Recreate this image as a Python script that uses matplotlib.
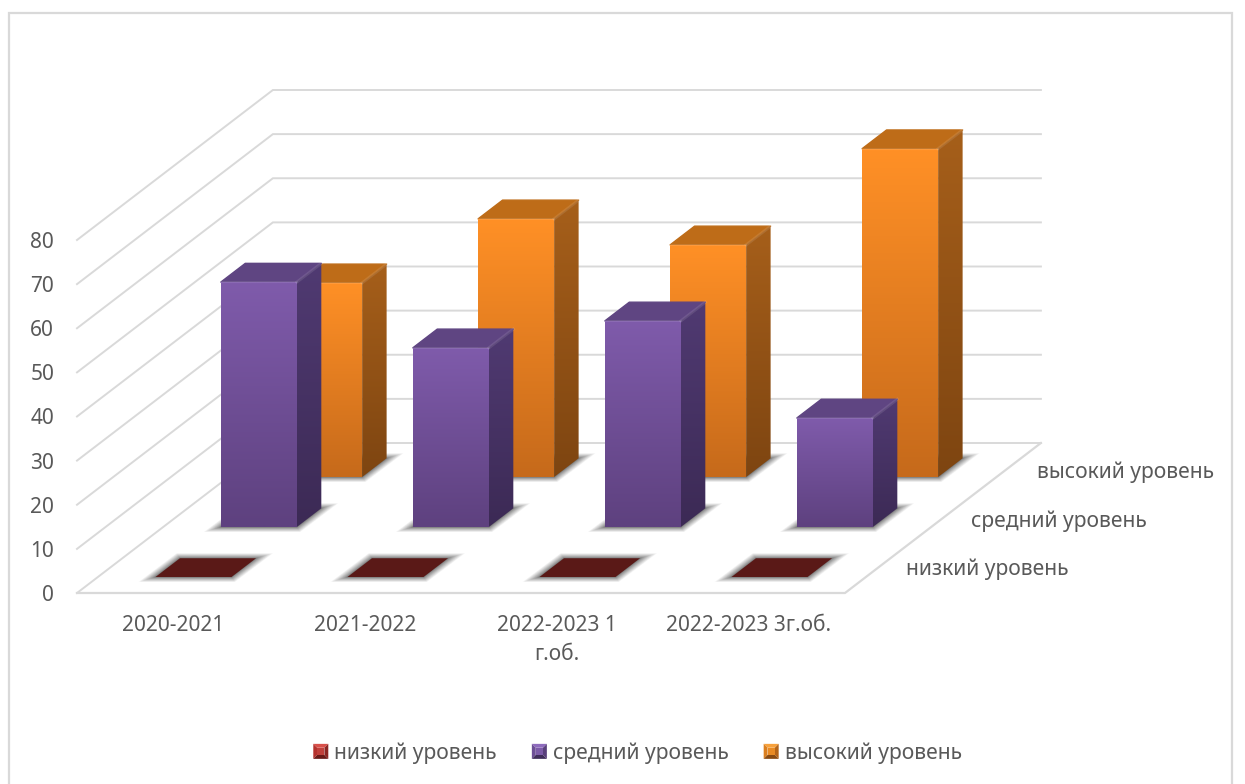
import numpy as np
import matplotlib
matplotlib.use("Agg")
import matplotlib.pyplot as plt
from matplotlib.patches import Polygon, Rectangle
from matplotlib.legend_handler import HandlerBase
from matplotlib.lines import Line2D

plt.rcParams['font.family'] = ['Noto Sans', 'DejaVu Sans']

categories = ['2020-2021', '2021-2022', '2022-2023 1\nг.об.', '2022-2023 3г.об.']
series_names = ['низкий уровень', 'средний уровень', 'высокий уровень']
low_level = [0, 0, 0, 0]
mid_level = [55.5, 40.6, 46.7, 24.7]
high_level = [44, 58.5, 52.6, 74.4]
value_ticks = [0, 10, 20, 30, 40, 50, 60, 70, 80]

W, H = 1245, 784
AX_L, AX_R, AX_B, AX_T = 77, 845, 593, 240
# one depth step in category / value units, for the oblique floor
DX = 65.3 / ((AX_R - AX_L) / 4)
DY = 50 / ((AX_B - AX_T) / 80)
DEPTHS = 3

GRID = '#D9D9D9'
TEXT = '#595959'
styles = [
    dict(front=('#6E1F1C', '#5A1917'), side=('#4A1412', '#3A0F0E'), top='#5A1917', legend=('#D8504A', '#B5322E', '#8C2522', '#6A1A18', '#C0403B')),
    dict(front=('#7F5BAB', '#5E417F'), side=('#503A72', '#3C2A55'), top='#5F4582', legend=('#8E6BBD', '#6D4F96', '#59407C', '#3F2D5A', '#7C5BA8')),
    dict(front=('#FF9026', '#C66A1B'), side=('#A65F1A', '#7E4511'), top='#BE6C18', legend=('#F7A13C', '#DB7F1F', '#B56417', '#8A4A10', '#E98A23')),
]


def project(cat, depth, value):
    return cat + depth * DX, value + depth * DY


fig = plt.figure(figsize=(W / 100, H / 100), dpi=100, facecolor='white')
ax = fig.add_axes([AX_L / W, 1 - AX_B / H, (AX_R - AX_L) / W, (AX_B - AX_T) / H])
ax.set_xlim(0, 4)
ax.set_ylim(0, 80)
ax.patch.set_visible(False)
for spine in ax.spines.values():
    spine.set_visible(False)

# outer chart frame
fig.add_artist(Rectangle((8.5 / W, -0.02), (1232 - 8.5) / W, 1 - 13 / H + 0.02,
                         transform=fig.transFigure, fill=False, ec=GRID, lw=1.6))

# walls and floor
for v in value_ticks:
    xs, ys = zip(project(0, 0, v), project(0, DEPTHS, v), project(4, DEPTHS, v))
    ax.plot(xs, ys, color=GRID, lw=1.4, clip_on=False, zorder=1, solid_joinstyle='miter')
xs, ys = zip(project(0, 0, 0), project(4, 0, 0), project(4, DEPTHS, 0))
ax.plot(xs, ys, color=GRID, lw=1.6, clip_on=False, zorder=1, solid_joinstyle='miter')


def gradient_poly(points, colors, zorder):
    """Fill a polygon with a vertical gradient between two colours."""
    pts = np.array(points)
    x0, x1 = pts[:, 0].min(), pts[:, 0].max()
    y0, y1 = pts[:, 1].min(), pts[:, 1].max()
    c0 = np.array(matplotlib.colors.to_rgb(colors[0]))
    c1 = np.array(matplotlib.colors.to_rgb(colors[1]))
    t = np.linspace(0, 1, 64)[:, None, None]
    img = c0[None, None, :] * (1 - t) + c1[None, None, :] * t
    im = ax.imshow(img, extent=(x0, x1, y0, y1), origin='upper', aspect='auto',
                   interpolation='bilinear', zorder=zorder)
    im.set_clip_path(Polygon(points, closed=True, transform=ax.transData))
    im.set_clip_box(fig.bbox)


def floor_shadow(cat0, cat1, d0, d1, zorder):
    """Soft shadow on the floor, wider sideways than in depth."""
    sx = 4 / (AX_R - AX_L)
    sy = 80 / (AX_B - AX_T)
    a = project(cat0, d0, 0)
    b = project(cat1, d0, 0)
    c = project(cat1, d1, 0)
    e = project(cat0, d1, 0)
    for f in np.linspace(1, 0.05, 24) ** 1.7:
        gx, gy = 17 * f * sx, 5 * f * sy
        poly = [(a[0] - gx, a[1] - gy), (b[0] + gx * 0.2, b[1] - gy),
                (c[0] + gx, c[1] + gy), (e[0] - gx * 0.2, e[1] + gy)]
        ax.add_patch(Polygon(poly, closed=True, fc='#2E2E2E', ec='none', alpha=0.04,
                             clip_on=False, zorder=zorder))


def draw_bar(cat, depth_index, value, style, order):
    c0 = cat + 0.30
    c1 = c0 + 0.396
    d0 = depth_index + 0.32
    d1 = d0 + 0.375
    z = 10 + (DEPTHS - depth_index) * 20 + order * 0.1
    floor_shadow(c0, c1, d0, d1, z)
    if value <= 0:
        ax.add_patch(Polygon([project(c0, d0, 0), project(c1, d0, 0),
                              project(c1, d1, 0), project(c0, d1, 0)],
                             closed=True, fc=style['top'], ec='none', clip_on=False, zorder=z + 1))
        return
    front = [project(c0, d0, 0), project(c1, d0, 0), project(c1, d0, value), project(c0, d0, value)]
    side = [project(c1, d0, 0), project(c1, d1, 0), project(c1, d1, value), project(c1, d0, value)]
    top = [project(c0, d0, value), project(c1, d0, value), project(c1, d1, value), project(c0, d1, value)]
    ax.add_patch(Polygon(top, closed=True, fc=style['top'], ec=style['top'], lw=1.0,
                         joinstyle='round', clip_on=False, zorder=z + 1))
    gradient_poly(side, style['side'], z + 2)
    gradient_poly(front, style['front'], z + 3)
    # highlights along the bevelled edges
    xs, ys = zip(front[3], front[2])
    ax.plot(xs, ys, color='white', alpha=0.10, lw=1.4, clip_on=False, zorder=z + 4)
    xs, ys = zip(front[2], top[2])
    ax.plot(xs, ys, color='white', alpha=0.10, lw=2.2, clip_on=False, zorder=z + 4)


all_series = [low_level, mid_level, high_level]
for d in reversed(range(3)):
    for c, val in enumerate(all_series[d]):
        draw_bar(c, d, val, styles[d], c)
# image extents widen the limits, so pin them back
ax.set_xlim(0, 4)
ax.set_ylim(0, 80)

# axis labels
ax.set_yticks(value_ticks)
ax.set_xticks([i + 0.5 for i in range(len(categories))])
ax.set_xticklabels(categories, linespacing=1.55)
ax.tick_params(axis='y', length=0, pad=16.5, labelsize=15, labelcolor=TEXT)
ax.tick_params(axis='x', length=0, pad=15.5, labelsize=15, labelcolor=TEXT)

# depth axis labels along the right edge of the floor
for i, name in enumerate(series_names):
    x, y = project(4, i + 0.5, 0)
    ax.annotate(name, (x, y), xytext=(20.5, -1 - 1.0 * i), textcoords='offset points',
                ha='left', va='center', fontsize=15.2, color=TEXT, annotation_clip=False)


class BevelSquare(HandlerBase):
    """Small pyramid-shaded square used as the legend key."""

    def create_artists(self, legend, orig, xd, yd, width, height, fontsize, trans):
        colours = orig.bevel
        s = 10.8
        x0, y0 = (width - s) / 2 - xd, (height - s) / 2 - yd
        x1, y1 = x0 + s, y0 + s
        inset = 2.8
        ix0, iy0, ix1, iy1 = x0 + inset, y0 + inset, x1 - inset, y1 - inset
        faces = [
            ([(x0, y1), (x1, y1), (ix1, iy1), (ix0, iy1)], colours[0]),
            ([(x0, y0), (x0, y1), (ix0, iy1), (ix0, iy0)], colours[1]),
            ([(x1, y0), (x1, y1), (ix1, iy1), (ix1, iy0)], colours[2]),
            ([(x0, y0), (x1, y0), (ix1, iy0), (ix0, iy0)], colours[3]),
            ([(ix0, iy0), (ix1, iy0), (ix1, iy1), (ix0, iy1)], colours[4]),
        ]
        return [Polygon(p, closed=True, fc=c, ec='none', transform=trans) for p, c in faces]


handles = []
for style, name in zip(styles, series_names):
    h = Line2D([], [], label=name)
    h.bevel = style['legend']
    handles.append(h)
fig.legend(handles=handles, loc='center', bbox_to_anchor=(637.5 / W, 1 - 753 / H), ncol=3,
           frameon=False, fontsize=15.2, labelcolor=TEXT, handlelength=0.72, handletextpad=0.28,
           columnspacing=1.65, handler_map={Line2D: BevelSquare()}, borderpad=0, borderaxespad=0)

fig.savefig('out.png', dpi=100, facecolor='white')
